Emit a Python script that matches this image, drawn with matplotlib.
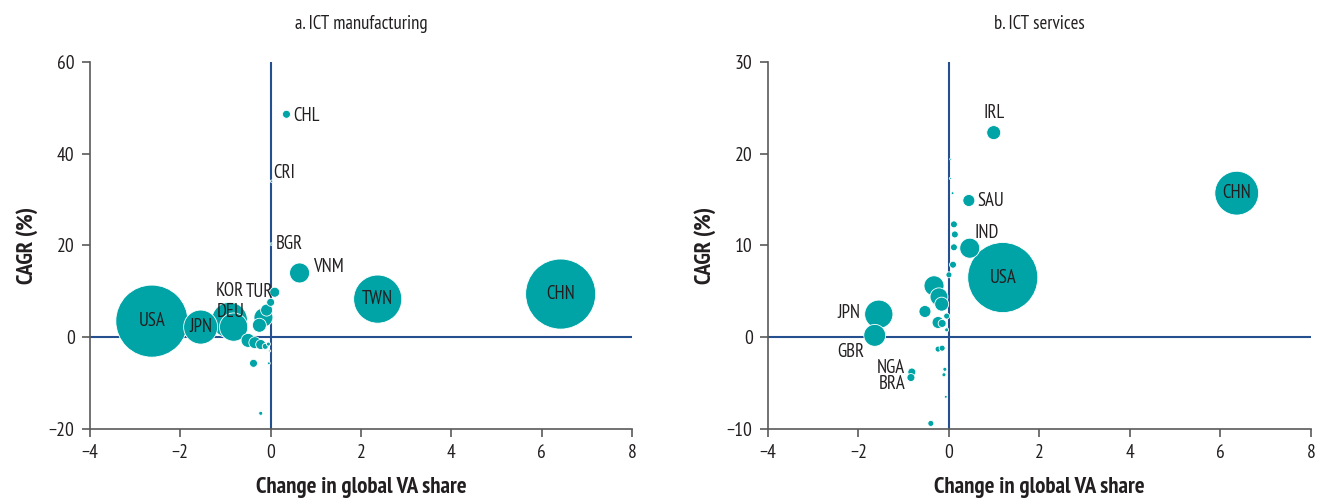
import matplotlib
matplotlib.use("Agg")
import matplotlib.pyplot as plt
import numpy as np

plt.rcParams['font.family'] = ['PT Sans Narrow', 'DejaVu Sans']

TEAL = '#00a4a6'
NAVY = '#24508f'
AXIS_GREY = '#5a5a5a'
TEXT = '#231f20'

# --- a. ICT manufacturing: change in global VA share, CAGR (%), bubble size (VA)
mfg_labels = ['USA', 'JPN', 'DEU', 'KOR', 'TUR', 'TWN', 'CHN', 'VNM', 'CHL', 'CRI', 'BGR',
              '', '', '', '', '', '', '', '', '', '', '', '', '']
mfg_x = [-2.63, -1.55, -0.91, -0.82, 0.09, 2.37, 6.42, 0.64, 0.35, 0.02, 0.01,
         0.00, -0.16, -0.09, -0.25, -0.50, -0.35, -0.22, -0.12, -0.05, -0.38, -0.04, -0.22, -0.02]
mfg_y = [3.5, 2.2, 3.7, 2.2, 9.8, 8.3, 9.4, 14.0, 48.6, 34.0, 20.3,
         7.6, 4.3, 5.9, 2.6, -0.7, -1.2, -1.6, -2.0, -1.5, -5.7, -5.7, -16.6, -3.0]
mfg_va = [130, 29, 32, 20, 2.5, 58, 123, 10, 1.6, 0.15, 0.15,
          1.6, 9.0, 3.6, 4.9, 4.9, 3.6, 2.5, 0.9, 0.4, 1.6, 0.2, 0.4, 0.1]

# --- b. ICT services
svc_labels = ['USA', 'CHN', 'IRL', 'SAU', 'IND', 'JPN', 'GBR', 'NGA', 'BRA',
              '', '', '', '', '', '', '', '', '', '', '', '', '', '', '', '', '', '', '', '', '', '']
svc_x = [1.19, 6.36, 0.99, 0.44, 0.46, -1.55, -1.64, -0.82, -0.84,
         -0.33, -0.22, -0.16, -0.53, -0.24, -0.15, 0.11, 0.13, 0.11, 0.09, 0.00, -0.05,
         -0.05, -0.24, -0.15, -0.09, -0.11, -0.07, -0.40, 0.04, 0.08, 0.03]
svc_y = [6.5, 15.7, 22.3, 14.9, 9.7, 2.5, 0.2, -3.8, -4.4,
         5.6, 4.4, 3.6, 2.8, 1.6, 1.5, 12.3, 11.2, 9.8, 7.9, 6.8, 2.3,
         0.8, -1.3, -1.2, -3.5, -4.1, -6.5, -9.4, 19.4, 15.7, 17.3]
svc_va = [123, 48, 4.9, 3.6, 10, 20, 12, 1.6, 1.6,
          10, 8, 4.9, 3.6, 3.6, 1.6, 1.2, 1.2, 1.2, 1.2, 0.9, 0.9,
          0.4, 0.9, 0.9, 0.4, 0.4, 0.2, 0.9, 0.1, 0.2, 0.1]

# label placement: (dx, dy) in points from bubble centre, horizontal alignment
mfg_label_pos = {
    'USA': (0, 0, 'center'), 'JPN': (0, 0, 'center'), 'DEU': (1, 6, 'center'),
    'KOR': (-3, 26, 'center'), 'TUR': (-1, 0, 'right'), 'TWN': (0, 0, 'center'),
    'CHN': (0, 0, 'center'), 'VNM': (10, 4, 'left'), 'CHL': (5, -1, 'left'),
    'CRI': (1, 6, 'left'), 'BGR': (3, 0, 'left'),
}
svc_label_pos = {
    'USA': (0, 0, 'center'), 'CHN': (0, 0, 'center'), 'IRL': (0, 14, 'center'),
    'SAU': (6, 0, 'left'), 'IND': (12, 11, 'center'), 'JPN': (-13, 1, 'right'),
    'GBR': (-17, -12, 'center'), 'NGA': (-5, 3, 'right'), 'BRA': (-4, -5, 'right'),
}


def draw_panel(ax, xs, ys, va, labels, label_pos, title, yticks):
    # bubble area proportional to value added
    order = np.argsort(va)[::-1]
    ax.scatter(np.array(xs)[order], np.array(ys)[order], s=np.array(va)[order] * 20.7,
               color=TEAL, edgecolors='white', linewidths=0.6, zorder=3)
    ax.axhline(0, color=NAVY, lw=1.5, zorder=2)
    ax.axvline(0, color=NAVY, lw=1.5, zorder=2)
    for lab, x, y in zip(labels, xs, ys):
        if not lab:
            continue
        dx, dy, ha = label_pos[lab]
        ax.annotate(lab, (x, y), xytext=(dx, dy), textcoords='offset points',
                    ha=ha, va='center', fontsize=13.5, color=TEXT, zorder=4)

    ax.set_xlim(-4, 8)
    ax.set_xticks([-4, -2, 0, 2, 4, 6, 8])
    ax.set_ylim(yticks[0], yticks[-1])
    ax.set_yticks(yticks)
    for side in ['top', 'right']:
        ax.spines[side].set_visible(False)
    for side in ['left', 'bottom']:
        ax.spines[side].set_color(AXIS_GREY)
        ax.spines[side].set_linewidth(1.2)
    ax.tick_params(direction='out', length=6, width=1.2, color=AXIS_GREY,
                   labelsize=14, labelcolor=TEXT, pad=5)
    ax.set_title(title, fontsize=13.5, color=TEXT, pad=24)
    ax.set_xlabel('Change in global VA share', fontsize=16.5, fontweight='bold',
                  color=TEXT, labelpad=11)
    ax.set_ylabel('CAGR (%)', fontsize=16.5, fontweight='bold', color=TEXT, labelpad=8)


fig = plt.figure(figsize=(13.27, 5.04), dpi=100)
ax1 = fig.add_axes([0.0678, 0.149, 0.4085, 0.728])
ax2 = fig.add_axes([0.5787, 0.149, 0.4092, 0.728])

draw_panel(ax1, mfg_x, mfg_y, mfg_va, mfg_labels, mfg_label_pos,
           'a. ICT manufacturing', [-20, 0, 20, 40, 60])
draw_panel(ax2, svc_x, svc_y, svc_va, svc_labels, svc_label_pos,
           'b. ICT services', [-10, 0, 10, 20, 30])

fig.savefig('out.png', dpi=100, facecolor='white')
